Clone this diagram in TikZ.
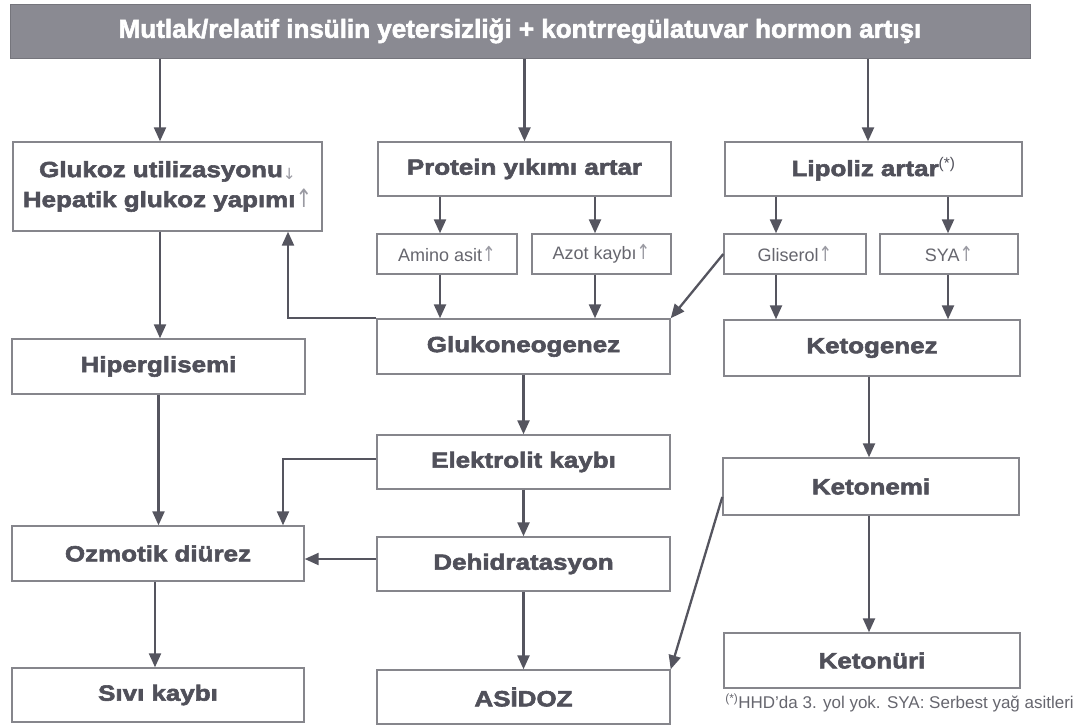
\documentclass[tikz,border=0pt]{standalone}
\usepackage{fontspec}
\setmainfont{Liberation Sans}
\newfontfamily\heavy{Liberation Sans}[UprightFont=* Bold, FakeBold=2.6, FakeStretch=1.18]
\newfontfamily\barfont{Liberation Sans}[UprightFont=* Bold, FakeBold=2.2]
\newfontfamily\symfont{DejaVu Sans}
\usetikzlibrary{arrows.meta,calc}
\definecolor{ink}{HTML}{50505A}
\definecolor{softink}{HTML}{66666E}
\definecolor{frame}{HTML}{86868C}
\definecolor{arrowc}{HTML}{55555F}
\definecolor{barfill}{HTML}{8A8A92}
\definecolor{markc}{HTML}{9A9AA2}
% thin arrows marking increase / decrease
\newcommand\arrup{{\symfont\color{markc}\scalebox{0.9}[1.15]{\char"2191}}}
\newcommand\arrdn{{\symfont\color{markc}\raisebox{-0.1em}{\scalebox{0.7}{\char"2193}}}}
\begin{document}
\begin{tikzpicture}[x=1pt,y=-1pt,
  box/.style={draw=frame, line width=1.4pt, fill=white, inner sep=0pt, align=center,
    text=ink, font=\heavy\fontsize{22}{30}\selectfont},
  small/.style={box, font=\fontsize{18}{22}\selectfont, text=softink},
  arr/.style={draw=arrowc, line width=2.3pt, -{Triangle[width=12pt,length=14pt]}},
  note/.style={text=softink, font=\fontsize{17}{20}\selectfont, inner sep=0pt}]
\useasboundingbox (0,0) rectangle (1079,728);

% top banner
\node[draw=barfill!85!black, fill=barfill, line width=1pt, minimum width=1020pt, minimum height=54pt,
  inner sep=0pt, text=white, font=\barfont\fontsize{26}{30}\selectfont]
  (top) at (520,31) {Mutlak/relatif insülin yetersizliği + kontrregülatuvar hormon artışı};

% first row
\node[box, minimum width=309pt, minimum height=89pt] (glukoz) at (167.5,186.5)
  {Glukoz utilizasyonu\arrdn\\Hepatik glukoz yapımı\arrup};
\node[box, minimum width=293pt, minimum height=54pt] (protein) at (524.5,169) {Protein yıkımı artar};
\node[box, minimum width=297pt, minimum height=54pt] (lipoliz) at (873.5,169)
  {Lipoliz artar\textsuperscript{\normalfont(*)}};

% intermediate products
\node[small, minimum width=140pt, minimum height=40pt] (amino) at (447,254) {Amino asit\arrup};
\node[small, minimum width=139pt, minimum height=40pt] (azot) at (601.5,254) {Azot kaybı\arrup};
\node[small, minimum width=142pt, minimum height=40pt] (gliserol) at (795,254) {Gliserol\arrup};
\node[small, minimum width=138pt, minimum height=40pt] (sya) at (949,254) {SYA\arrup};

% lower boxes
\node[box, minimum width=293pt, minimum height=55pt] (hiper) at (158.5,366.5) {Hiperglisemi};
\node[box, minimum width=293pt, minimum height=55pt] (gluko) at (523.5,346.5) {Glukoneogenez};
\node[box, minimum width=296pt, minimum height=56pt] (keto) at (872,348) {Ketogenez};
\node[box, minimum width=293pt, minimum height=54pt] (elek) at (523.5,462) {Elektrolit kaybı};
\node[box, minimum width=296pt, minimum height=57pt] (ketonemi) at (871,486.5) {Ketonemi};
\node[box, minimum width=292pt, minimum height=55pt] (ozmo) at (158,553.5) {Ozmotik diürez};
\node[box, minimum width=293pt, minimum height=54pt] (dehid) at (523.5,564) {Dehidratasyon};
\node[box, minimum width=296pt, minimum height=55pt] (ketonuri) at (872,660.5) {Ketonüri};
\node[box, minimum width=292pt, minimum height=54pt] (sivi) at (158,695) {Sıvı kaybı};
\node[box, minimum width=293pt, minimum height=54pt] (asidoz) at (523.5,697) {ASİDOZ};

% footnote
\node[note, anchor=east] (foot) at (1074,703)
  {\textsuperscript{(*)}HHD'da 3. yol yok. SYA: Serbest yağ asitleri};

% connectors from the banner
\draw[arr] ([xshift=-7.5pt]glukoz.north |- top.south) -- ([xshift=-7.5pt]glukoz.north);
\draw[arr] (protein.north |- top.south) -- (protein.north);
\draw[arr] ([xshift=-5.5pt]lipoliz.north |- top.south) -- ([xshift=-5.5pt]lipoliz.north);

% protein branch
\draw[arr] ([xshift=-7pt]amino.north |- protein.south) -- ([xshift=-7pt]amino.north);
\draw[arr] ([xshift=-6.5pt]azot.north |- protein.south) -- ([xshift=-6.5pt]azot.north);
\draw[arr] ([xshift=-7pt]amino.south) -- ([xshift=-7pt]amino.south |- gluko.north);
\draw[arr] ([xshift=-6.5pt]azot.south) -- ([xshift=-6.5pt]azot.south |- gluko.north);

% lipolysis branch
\draw[arr] ([xshift=-19pt]gliserol.north |- lipoliz.south) -- ([xshift=-19pt]gliserol.north);
\draw[arr] ([xshift=-1pt]sya.north |- lipoliz.south) -- ([xshift=-1pt]sya.north);
\draw[arr] ([xshift=-19pt]gliserol.south) -- ([xshift=-19pt]gliserol.south |- keto.north);
\draw[arr] ([xshift=-1pt]sya.south) -- ([xshift=-1pt]sya.south |- keto.north);
\draw[arr] (gliserol.west) -- (gluko.north east);

% gluconeogenesis feeds hepatic glucose output
\draw[arr] (gluko.north west) -| ([xshift=120.5pt]glukoz.south);

% left column
\draw[arr] ([xshift=-7.5pt]glukoz.south) -- ([xshift=-7.5pt]glukoz.south |- hiper.north);
\draw[arr] (hiper.south) -- (hiper.south |- ozmo.north);
\draw[arr] ([xshift=-3pt]ozmo.south) -- ([xshift=-3pt]ozmo.south |- sivi.north);

% middle column
\draw[arr] (gluko.south) -- (elek.north);
\draw[arr] (elek.south) -- (dehid.north);
\draw[arr] (dehid.south) -- (asidoz.north);
\draw[arr] ([yshift=3pt]elek.west) -| ([xshift=125pt]ozmo.north);
\draw[arr] ([yshift=5pt]dehid.west) -- ([yshift=5pt]dehid.west -| ozmo.east);

% ketone column
\draw[arr] ([xshift=-3pt]keto.south) -- ([xshift=-3pt]keto.south |- ketonemi.north);
\draw[arr] ([xshift=-2pt]ketonemi.south) -- ([xshift=-2pt]ketonemi.south |- ketonuri.north);
\draw[arr] ([yshift=-10.5pt]ketonemi.west) -- (asidoz.north east);
\end{tikzpicture}
\end{document}
